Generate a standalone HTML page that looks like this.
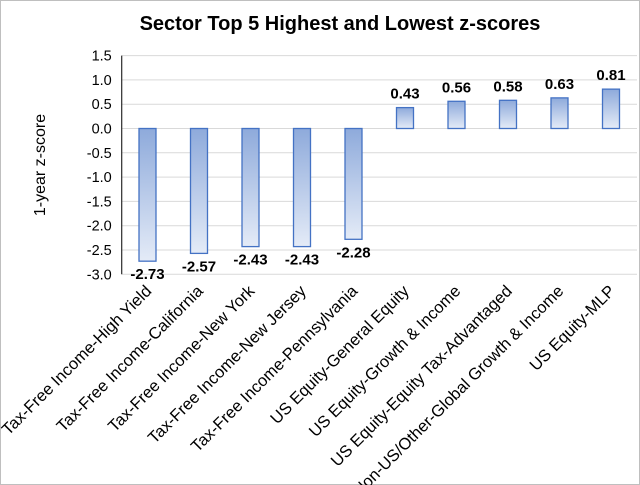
<!DOCTYPE html>
<html><head><meta charset="utf-8"><style>
body{margin:0;background:#fff}
svg{display:block;font-family:"Liberation Sans",Arial,sans-serif}
</style></head><body>
<svg id="chart" width="640" height="485" viewBox="0 0 640 485">
<defs>
<linearGradient id="gneg" x1="0" y1="0" x2="0" y2="1"><stop offset="0" stop-color="#8eaadb"/><stop offset="1" stop-color="#e4ebf7"/></linearGradient>
<linearGradient id="gpos" x1="0" y1="1" x2="0" y2="0"><stop offset="0" stop-color="#e4ebf7"/><stop offset="1" stop-color="#8eaadb"/></linearGradient>
</defs>
<rect x="0.5" y="0.5" width="639" height="484" fill="#fff" stroke="#bfbfbf"/>
<text x="340" y="30" text-anchor="middle" font-size="20" font-weight="bold" fill="#000">Sector Top 5 Highest and Lowest z-scores</text>
<text transform="translate(45,165) rotate(-90)" text-anchor="middle" font-size="16" fill="#000">1-year z-score</text>
<g id="grid"></g><g id="bars"></g><g id="labels"></g>
</svg>
<script>
const categories=["Tax-Free Income-High Yield","Tax-Free Income-California","Tax-Free Income-New York","Tax-Free Income-New Jersey","Tax-Free Income-Pennsylvania","US Equity-General Equity","US Equity-Growth & Income","US Equity-Equity Tax-Advantaged","Non-US/Other-Global Growth & Income","US Equity-MLP"];
const values=[-2.73,-2.57,-2.43,-2.43,-2.28,0.43,0.56,0.58,0.63,0.81];
const yTicks=[1.5,1.0,0.5,0.0,-0.5,-1.0,-1.5,-2.0,-2.5,-3.0];
const NS="http://www.w3.org/2000/svg";
const x0=121.75,step=51.5,bw=17;
const y=v=>128.5-(v*48.6);
const xc=i=>x0+step*(i+0.5);
function mk(t,a,p){const e=document.createElementNS(NS,t);for(const k in a)e.setAttribute(k,a[k]);p.appendChild(e);return e;}
const grid=document.getElementById('grid'),bars=document.getElementById('bars'),labels=document.getElementById('labels');
yTicks.forEach(t=>{
 const l=mk('line',{x1:x0,x2:637,y1:y(t),y2:y(t),stroke:'#d9d9d9','stroke-width':1},grid);
 
 
 const tx=mk('text',{x:x0-10,y:y(t)+5,'text-anchor':'end','font-size':14.5,fill:'#000'},grid);
 tx.textContent=t.toFixed(1);
 
 
});
const ax=mk('line',{x1:x0,x2:x0,y1:y(1.5),y2:y(-3),stroke:'#000','stroke-width':1},grid);


values.forEach((v,i)=>{
 const top=Math.min(y(v),y(0)),h=Math.abs(y(v)-y(0));
 const r=mk('rect',{x:xc(i)-bw/2,y:top,width:bw,height:h,fill:v<0?'url(#gneg)':'url(#gpos)',stroke:'#4472c4','stroke-width':1.3},bars);
 
 
 const vl=mk('text',{x:xc(i),y:v<0?y(v)+18:y(v)-9,'text-anchor':'middle','font-size':15,'font-weight':'bold',fill:'#000'},labels);
 vl.textContent=v.toFixed(2);
 
 
 const cl=mk('text',{transform:`translate(${xc(i)+5},292) rotate(-45)`,'text-anchor':'end','font-size':16.5,fill:'#000'},labels);
 cl.textContent=categories[i];
 
 
});
</script>
</body></html>
